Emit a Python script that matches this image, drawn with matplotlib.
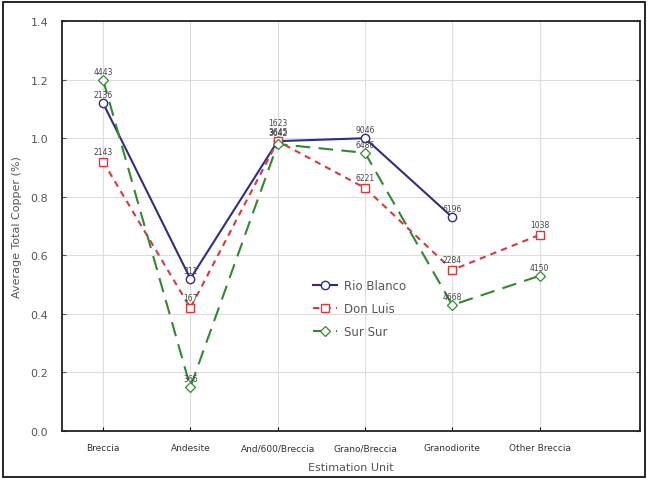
import matplotlib
matplotlib.use("Agg")
import matplotlib.pyplot as plt
from matplotlib.patches import Rectangle

categories = ["Breccia", "Andesite", "And/600/Breccia", "Grano/Breccia", "Granodiorite", "Other Breccia"]
rio_blanco = [1.12, 0.52, 0.99, 1.00, 0.73]
don_luis = [0.92, 0.42, 0.99, 0.83, 0.55, 0.67]
sur_sur = [1.20, 0.15, 0.98, 0.95, 0.43, 0.53]
rio_labels = ["2136", "311", "3642", "9046", "6196"]
don_labels = ["2143", "167", "3645", "6221", "2284", "1038"]
sur_labels = ["4443", "366", "1623", "6486", "4668", "4150"]

fig = plt.figure(figsize=(6.48, 4.81), dpi=100)
fig.patches.append(Rectangle((0.005, 0.006), 0.99, 0.988, transform=fig.transFigure,
                             fill=False, edgecolor="black", linewidth=1.2))
ax = fig.add_axes([0.0957, 0.102, 0.892, 0.852])

x_rb = list(range(len(rio_blanco)))
x_dl = list(range(len(don_luis)))
x_ss = list(range(len(sur_sur)))

c_rb = "#2e2e8a"
c_dl = "#d83a3a"
c_ss = "#2f8a2f"

ax.plot(x_rb, rio_blanco, color=c_rb, lw=1.5, marker="o", ms=6,
        mfc="white", mec=c_rb, mew=1.0, label="Rio Blanco")
ax.plot(x_dl, don_luis, color=c_dl, lw=1.5, ls=(0, (3, 2.5)), marker="s", ms=6,
        mfc="white", mec=c_dl, mew=1.0, label="Don Luis")
ax.plot(x_ss, sur_sur, color=c_ss, lw=1.5, ls=(0, (7, 4)), marker="D", ms=5,
        mfc="white", mec=c_ss, mew=0.9, label="Sur Sur")

lab_kw = dict(textcoords="offset points", ha="center", va="bottom",
              fontsize=5.5, color="#444444")
for xi, yi, t in zip(x_rb, rio_blanco, rio_labels):
    ax.annotate(t, (xi, yi), xytext=(0, 3), **lab_kw)
for xi, yi, t in zip(x_dl, don_luis, don_labels):
    ax.annotate(t, (xi, yi), xytext=(0, 4), **lab_kw)
for xi, yi, t in zip(x_ss, sur_sur, sur_labels):
    off = 12 if t == "1623" else 3
    ax.annotate(t, (xi, yi), xytext=(0, off), **lab_kw)

ax.set_xlim(-0.47, 6.15)
ax.set_ylim(0, 1.4)
ax.set_yticks([0, 0.2, 0.4, 0.6, 0.8, 1.0, 1.2, 1.4])
ax.set_yticklabels(["0.0", "0.2", "0.4", "0.6", "0.8", "1.0", "1.2", "1.4"])
ax.set_xticks(range(len(categories)))
ax.set_xticklabels(categories, fontsize=6.5, color="#333333",
                   family=["Liberation Sans Narrow", "DejaVu Sans"])
ax.tick_params(axis="y", labelsize=8, colors="#555555", direction="in",
               length=3, right=True, pad=10)
ax.tick_params(axis="x", direction="in", length=3, pad=9)
ax.grid(True, color="#dddddd", lw=0.8)
for s in ax.spines.values():
    s.set_linewidth(1.3)
    s.set_color("#222222")

ax.set_ylabel("Average Total Copper (%)", fontsize=8, color="#555555", labelpad=6)
ax.set_xlabel("Estimation Unit", fontsize=8, color="#555555", labelpad=7)

leg = ax.legend(loc="upper left", bbox_to_anchor=(0.42, 0.39), frameon=False,
                fontsize=8.5, handlelength=2.0, handletextpad=0.6, labelspacing=0.85,
                borderpad=0.2)
for t in leg.get_texts():
    t.set_color("#555555")

fig.savefig("out.png", dpi=100)
